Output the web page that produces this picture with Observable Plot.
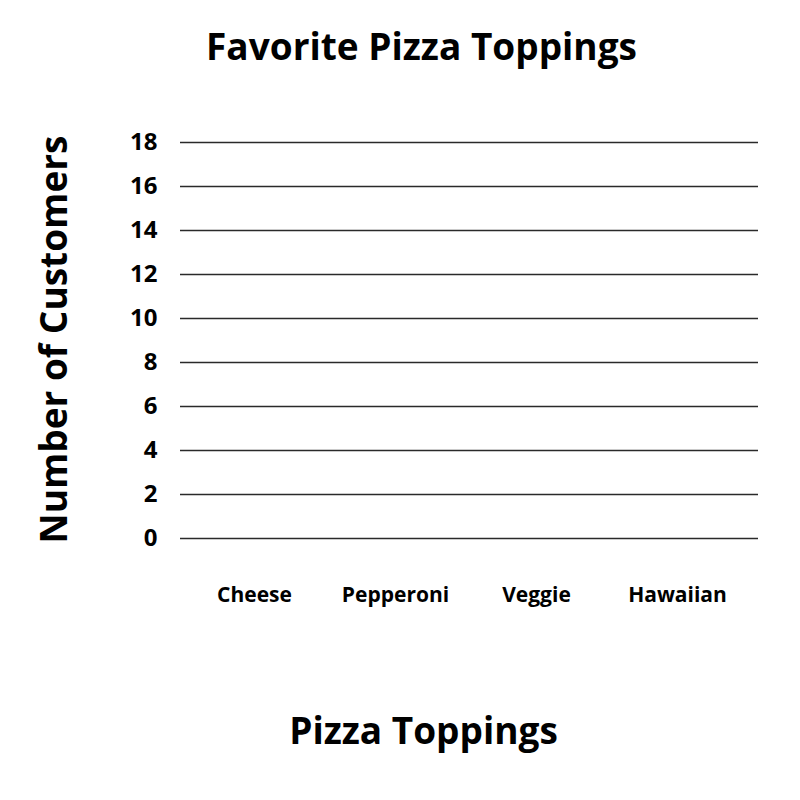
<!DOCTYPE html>
<html>
<head>
<meta charset="utf-8">
<script src="https://cdn.jsdelivr.net/npm/d3@7"></script>
<script src="https://cdn.jsdelivr.net/npm/@observablehq/plot@0.6"></script>
<style>
  html, body { margin: 0; padding: 0; background: #fff; }
</style>
</head>
<body>
<div id="chart"></div>
<script>
const title = "Favorite Pizza Toppings";
const xTitle = "Pizza Toppings";
const yTitle = "Number of Customers";
const categories = ["Cheese", "Pepperoni", "Veggie", "Hawaiian"];
const yTicks = [0, 2, 4, 6, 8, 10, 12, 14, 16, 18];

const chart = Plot.plot({
  width: 800,
  height: 800,
  marginLeft: 180,
  marginRight: 42,
  marginTop: 142,
  marginBottom: 262,
  style: { fontFamily: "Open Sans", fontWeight: "bold", color: "#000", background: "#fff" },
  x: { type: "point", domain: categories, insetLeft: 74, insetRight: 81, padding: 0, label: null },
  y: { domain: [0, 18], label: null },
  marks: [
    Plot.ruleY(yTicks, { stroke: "#2a2a2a", strokeWidth: 1.5 }),
    Plot.axisY(yTicks, { tickSize: 0, tickPadding: 23, fontSize: 24, fill: "#000", label: null }),
    Plot.axisX(categories, { tickSize: 0, tickPadding: 49, fontSize: 21, fill: "#000", label: null }),
    Plot.text([title], { frameAnchor: "top", lineAnchor: "middle", dx: -48, dy: -94, fontSize: 37, fontWeight: "bold", fill: "#000" }),
    Plot.text([xTitle], { frameAnchor: "bottom", lineAnchor: "middle", dx: -46, dy: 194, fontSize: 37, fontWeight: "bold", fill: "#000" }),
    Plot.text([yTitle], { frameAnchor: "left", textAnchor: "middle", lineAnchor: "middle", dx: -125, dy: -1, rotate: -90, fontSize: 37, fontWeight: "bold", fill: "#000" })
  ]
});
document.getElementById("chart").appendChild(chart);
</script>
</body>
</html>
